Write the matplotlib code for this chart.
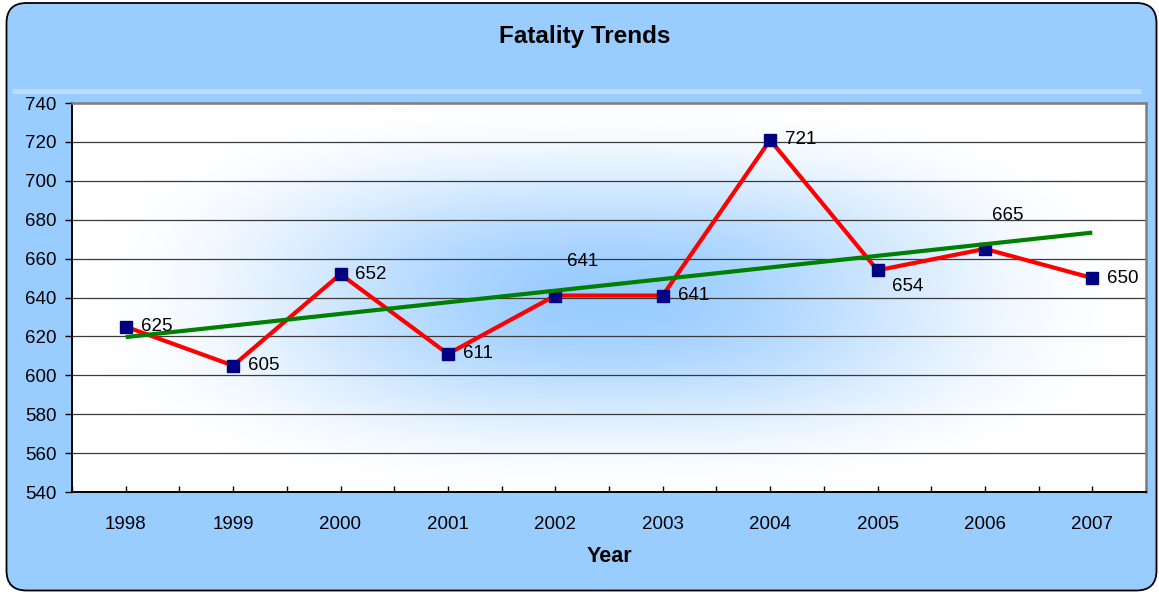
import numpy as np
import matplotlib
matplotlib.use("Agg")
import matplotlib.pyplot as plt
from matplotlib.patches import FancyBboxPatch
from matplotlib.lines import Line2D

# Data
years = ["1998", "1999", "2000", "2001", "2002", "2003", "2004", "2005", "2006", "2007"]
fatalities = [625, 605, 652, 611, 641, 641, 721, 654, 665, 650]
y_ticks = [540, 560, 580, 600, 620, 640, 660, 680, 700, 720, 740]

# Label placement for each point: (dx, dy) in pixels, horizontal alignment
label_offsets = [(15, 0, "left"), (15, 0, "left"), (15, 0, "left"), (15, 0, "left"),
                 (27, 34, "center"), (15, 0, "left"), (15, 0, "left"),
                 (30, -16, "center"), (23, 33, "center"), (15, 0, "left")]

W_PX, H_PX = 1159, 592
DPI = 100
plt.rcParams["font.family"] = ["Liberation Sans", "DejaVu Sans"]

fig = plt.figure(figsize=(W_PX / DPI, H_PX / DPI), dpi=DPI)
fig.patch.set_facecolor("white")

# Rounded chart-area background
bg = FancyBboxPatch((6.5 / DPI, 1.5 / DPI), (1150 / DPI), (587.5 / DPI),
                    boxstyle="round,pad=0,rounding_size=0.2",
                    transform=fig.dpi_scale_trans, facecolor="#99CCFF",
                    edgecolor="black", linewidth=1.3, zorder=0)
fig.patches.append(bg)

# Light separator band under the title
fig.add_artist(Line2D([12 / W_PX, 1141 / W_PX], [1 - 90.8 / H_PX] * 2,
                      transform=fig.transFigure, color="#BCDDFF", linewidth=3.6,
                      solid_capstyle="butt", zorder=1))

fig.text(585 / W_PX, 1 - 37 / H_PX, "Fatality Trends", ha="center", va="center",
         fontsize=17.5, fontweight="bold", zorder=2)

left, right, top, bottom = 72, 1146, 103, 492
ax = fig.add_axes([left / W_PX, 1 - bottom / H_PX, (right - left) / W_PX, (bottom - top) / H_PX])
ax.set_zorder(3)

n = len(years)
x = np.arange(n)
ax.set_xlim(-0.5, n - 0.5)
ax.set_ylim(y_ticks[0], y_ticks[-1])

# Center-out blue gradient filling the plot area (rounded-rectangle contours)
gw, gh = 800, 300
gx = np.linspace(-1, 1, gw)
gy = np.linspace(-1, 1, gh)
GX, GY = np.meshgrid(gx, gy)
p = 2.6
d = (np.abs(GX / 0.98) ** p + np.abs(GY / 1.02) ** p) ** (1 / p)
s = np.clip(1 - d, 0, 1)
t = s * s * (3 - 2 * s)
c0 = np.array([1.0, 1.0, 1.0])
c1 = np.array([0x99, 0xCC, 0xFF]) / 255
img = c0[None, None, :] + (c1 - c0)[None, None, :] * t[:, :, None]
ax.imshow(img, extent=(-0.5, n - 0.5, y_ticks[0], y_ticks[-1]), aspect="auto",
          zorder=0, interpolation="bilinear")

ax.set_yticks(y_ticks)
ax.set_axisbelow(True)
ax.grid(axis="y", color="#3A3A3A", linewidth=0.9)
ax.grid(axis="x", visible=False)

ax.set_xticks(x)
ax.set_xticklabels(years)
ax.set_xticks(np.arange(-0.5, n, 1.0), minor=True)
ax.tick_params(axis="x", which="both", direction="in", length=4, width=1, color="black")
ax.tick_params(axis="x", which="major", labelsize=13.5, pad=17)
ax.tick_params(axis="y", direction="out", length=5, width=1, color="black",
               labelsize=13.5, pad=6)

for side in ("left", "bottom"):
    ax.spines[side].set_color("black")
    ax.spines[side].set_linewidth(1.4)
for side in ("top", "right"):
    ax.spines[side].set_color("#7F7F7F")
    ax.spines[side].set_linewidth(1.8)

# Series line, markers and linear trend
ax.plot(x, fatalities, color="#FF0000", linewidth=3.0, zorder=3, solid_capstyle="butt")
ax.plot(x, fatalities, linestyle="none", marker="s", markersize=8.6,
        markerfacecolor="#000080", markeredgecolor="#000080", zorder=4)
slope, intercept = np.polyfit(x, fatalities, 1)
ax.plot(x, slope * x + intercept, color="#008000", linewidth=3.0, zorder=5,
        solid_capstyle="butt")

for xi, val, (dx, dy, ha) in zip(x, fatalities, label_offsets):
    ax.annotate(str(val), (xi, val), xytext=(dx * 72 / DPI, dy * 72 / DPI),
                textcoords="offset points", ha=ha, va="center", fontsize=13.5, zorder=6)

fig.text(609 / W_PX, 1 - 557 / H_PX, "Year", ha="center", va="center",
         fontsize=15.5, fontweight="bold")

fig.savefig("out.png", dpi=DPI)
